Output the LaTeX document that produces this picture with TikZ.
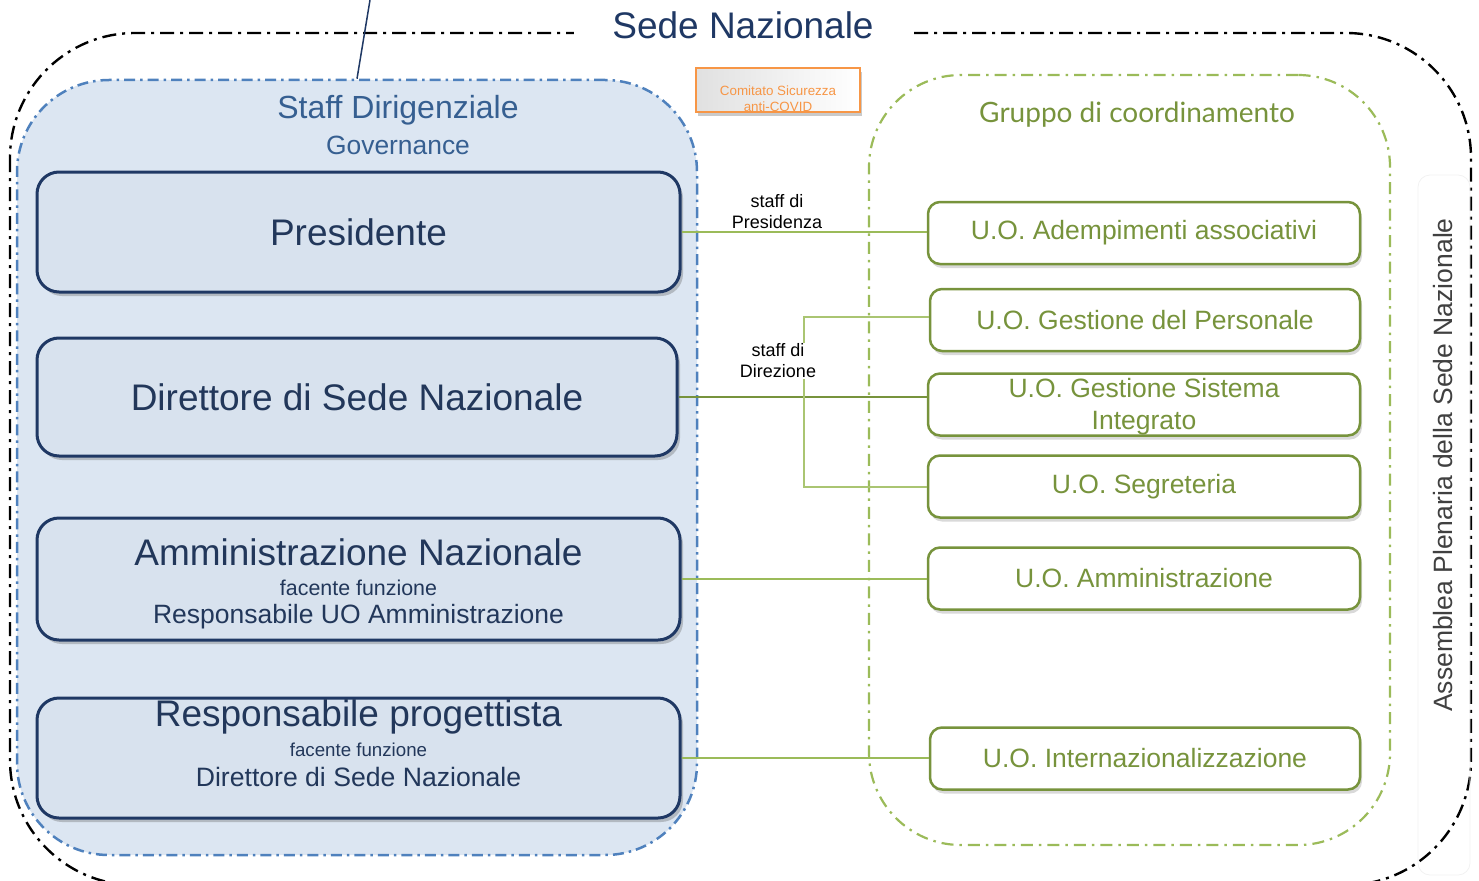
\documentclass[tikz,border=0pt]{standalone}
\usepackage{fontspec}
\setmainfont{Liberation Sans}
\newfontfamily\gill{Lato}
\usetikzlibrary{shadows}
\definecolor{navy}{HTML}{1F3864}
\definecolor{navytxt}{HTML}{22375A}
\definecolor{staffblue}{HTML}{4F81BD}
\definecolor{stafftxt}{HTML}{365F91}
\definecolor{stafffill}{HTML}{DCE6F2}
\definecolor{innerfill}{HTML}{D8E2EE}
\definecolor{grp}{HTML}{9BBB59}
\definecolor{olive}{HTML}{77933C}
\definecolor{orng}{HTML}{F79646}
\newcommand{\fs}[1]{\fontsize{#1}{#1}\selectfont}
\newcommand{\fsb}[2]{\fontsize{#1}{#2}\selectfont}
\tikzset{
  navybox/.style={draw=navy, line width=3pt, fill=innerfill, rounded corners=22pt,
    drop shadow={shadow xshift=3pt, shadow yshift=-4pt, opacity=0.35, fill=black!60},
    text=navytxt, font=\fs{37}, inner sep=0pt},
  uobox/.style={draw=olive, line width=2.5pt, fill=white, rounded corners=12pt,
    drop shadow={shadow xshift=2pt, shadow yshift=-4pt, opacity=0.3, fill=black!50},
    text=olive, font=\fs{26.5}, inner sep=0pt, minimum width=432pt, minimum height=62pt},
  lnk/.style={draw=grp, line width=1.5pt},
  lbl/.style={font=\fsb{18}{21}, align=center, text=black, inner sep=1pt}
}
\begin{document}
\begin{tikzpicture}[x=1pt,y=-1pt]
\useasboundingbox (0,0) rectangle (1479,880);
% outer dash-dot frame
\draw[black, line width=2.4pt, dash pattern=on 14pt off 6pt on 3pt off 6pt, rounded corners=125pt]
  (10,33) rectangle (1471,885);
\node[fill=white, minimum width=338pt, minimum height=40pt, text=navy, font=\fs{37}] (title) at (743,25) {Sede Nazionale};
% assemblea faint frame
\draw[black!5, line width=0.8pt, rounded corners=12pt] (1418,175) rectangle (1470,875);
\node[rotate=90, text=black!75, font=\fs{26.5}] (assemblea) at (1443,465) {Assemblea Plenaria della Sede Nazionale};
% staff group
\node[draw=staffblue, fill=stafffill, line width=2.5pt, dash pattern=on 11pt off 5pt on 2.5pt off 5pt,
  rounded corners=92pt, minimum width=680pt, minimum height=775pt] (staff) at (357,467.5) {};
\coordinate (topc) at (370,0);
\draw[navy, line width=1.5pt] (topc) -- (staff.north);
\node[text=stafftxt, font=\fs{32}] (stafft) at (398,110) {Staff Dirigenziale};
\node[text=stafftxt, font=\fs{26.4}] (gov) at (398,145) {Governance};
% navy boxes
\node[navybox, minimum width=643pt, minimum height=120pt] (pres) at (358.5,232) {Presidente};
\node[navybox, minimum width=640pt, minimum height=118pt] (dir) at (357,397) {Direttore di Sede Nazionale};
\node[navybox, minimum width=643pt, minimum height=122pt] (amm) at (358.5,579) {};
\node[text=navytxt, font=\fs{37}] (ammA) at (358.5,552) {Amministrazione Nazionale};
\node[text=navytxt, font=\fs{21.4}] (ammB) at (358.5,588) {facente funzione};
\node[text=navytxt, font=\fs{26.5}] (ammC) at (358.5,617) {Responsabile UO Amministrazione};
\node[navybox, minimum width=643pt, minimum height=120pt] (resp) at (358.5,758) {};
\node[text=navytxt, font=\fs{37}] (respA) at (358.5,717) {Responsabile progettista};
\node[text=navytxt, font=\fs{18.7}] (respB) at (358.5,750) {facente funzione};
\node[text=navytxt, font=\fs{26.6}] (respC) at (358.5,777) {Direttore di Sede Nazionale};
% comitato
\node[draw=orng, line width=2pt, left color=black!12, right color=white, minimum width=164pt, minimum height=44pt,
  drop shadow={shadow xshift=2pt, shadow yshift=-4pt, opacity=0.35, fill=black!60}] (com) at (778,90) {};
\node[text=orng, font=\fsb{13.4}{16}, align=center, inner sep=0pt] (comt) at (778,99) {Comitato Sicurezza\\anti-COVID};
% green group
\node[draw=grp, line width=2.2pt, dash pattern=on 12pt off 6pt on 2.5pt off 6pt,
  rounded corners=92pt, minimum width=521pt, minimum height=770pt] (grp) at (1129.5,460) {};
\node[text=olive, font=\gill\fs{28}] (grpt) at (1137,115) {Gruppo di coordinamento};
% UO boxes
\node[uobox] (ade) at (1144,233) {U.O. Adempimenti associativi};
\node[uobox, minimum width=430pt] (pers) at (1145,320) {U.O. Gestione del Personale};
\node[uobox] (sist) at (1144,404.5) {};
\node[text=olive, font=\fsb{26.5}{32}, align=center, inner sep=0pt] (sistt) at (1144,407) {U.O. Gestione Sistema\\Integrato};
\node[uobox] (segr) at (1144,486.5) {U.O. Segreteria};
\node[uobox] (uoamm) at (1144,578.5) {U.O. Amministrazione};
\node[uobox, minimum width=430pt] (intl) at (1145,758.5) {U.O. Internazionalizzazione};
% connectors
\draw[lnk, line width=1.2pt] (pres.east) -- (ade.west |- pres.east);
\node[lbl] (lpres) at (777,212) {staff di\\Presidenza};
\draw[olive, line width=1.4pt] (dir.east) -- (dir.east -| sist.west);
\draw[lnk, draw=grp!85!white] (pers.west |- 0,317) -- (804,317) -- (804,487) -- (segr.west |- 0,487);
\node[lbl, fill=white] (ldir) at (778,361) {staff di\\Direzione};
\draw[lnk] (amm.east) -- (uoamm.west |- amm.east);
\draw[lnk] (resp.east) -- (intl.west |- resp.east);
\end{tikzpicture}
\end{document}
